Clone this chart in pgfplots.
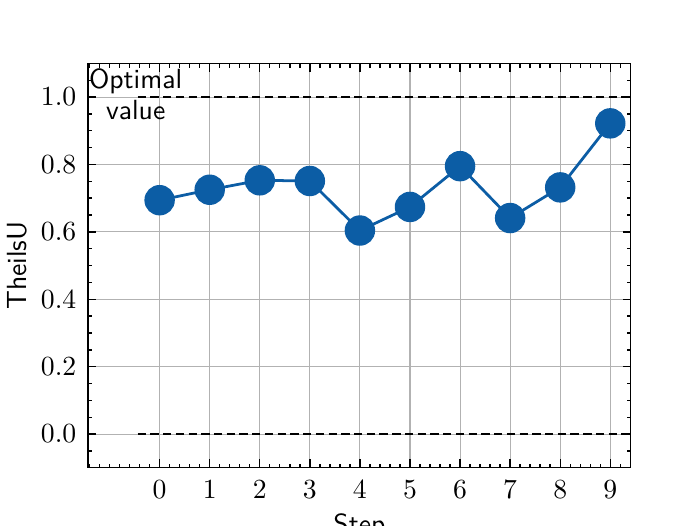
\documentclass[border=0pt]{standalone}
\usepackage{pgfplots}
\pgfplotsset{compat=1.18}
\definecolor{sciblue}{HTML}{0C5DA5}
\begin{document}
\begin{tikzpicture}
\begin{axis}[
  at={(0,0)}, anchor=south west,
  scale only axis,
  width=196.1pt, height=146.1pt,
  xmin=-1.43, xmax=9.41,
  ymin=-0.1, ymax=1.1,
  xtick={0,1,2,3,4,5,6,7,8,9},
  ytick={0,0.2,0.4,0.6,0.8,1.0},
  yticklabels={$0.0$,$0.2$,$0.4$,$0.6$,$0.8$,$1.0$},
  minor xtick={-1.4,-1.2,-1,-0.8,-0.6,-0.4,-0.2,0.2,0.4,0.6,0.8,1.2,1.4,1.6,1.8,2.2,2.4,2.6,2.8,3.2,3.4,3.6,3.8,4.2,4.4,4.6,4.8,5.2,5.4,5.6,5.8,6.2,6.4,6.6,6.8,7.2,7.4,7.6,7.8,8.2,8.4,8.6,8.8,9.2,9.4},
  minor ytick={-0.1,-0.05,0.05,0.1,0.15,0.25,0.3,0.35,0.45,0.5,0.55,0.65,0.7,0.75,0.85,0.9,0.95,1.05,1.1},
  tick align=inside,
  tick pos=both,
  major tick length=3pt,
  minor tick length=1.5pt,
  every tick/.style={black, line width=0.5pt},
  axis line style={black, line width=0.5pt},
  grid=major,
  major grid style={color=black!30, line width=0.4pt},
  tick label style={font=\fontsize{10}{12}\selectfont},
  xticklabel style={yshift=-1.1pt},
  yticklabel style={xshift=-0.7pt},
  xlabel={\sffamily Step},
  ylabel={\sffamily TheilsU},
  label style={font=\fontsize{10}{12}\selectfont},
  xlabel style={at={(axis description cs:0.5,-0.1444)}, anchor=center},
  ylabel style={at={(axis description cs:-0.131,0.5)}, anchor=center},
  clip=true,
]
\addplot[black, dashed, dash pattern=on 3pt off 1.6pt, line width=1pt] coordinates {(-0.44,1) (9.6,1)};
\addplot[black, dashed, dash pattern=on 3pt off 1.6pt, line width=1pt] coordinates {(-0.44,0) (9.6,0)};
\addplot[sciblue, line width=1pt, mark=*, mark size=5pt, mark options={fill=sciblue, draw=sciblue}] coordinates {
(0,0.694) (1,0.725) (2,0.753) (3,0.751) (4,0.604) (5,0.674) (6,0.795) (7,0.641) (8,0.732) (9,0.922)};
\node[anchor=west, align=center, font=\sffamily\fontsize{10}{11.1}\selectfont, inner sep=0pt, yshift=1.1pt] at (axis cs:-1.42,1.0) {Optimal\\value};
\end{axis}
\pgfresetboundingbox
\path[use as bounding box] (-31.8pt,-20.7pt) rectangle (221.1pt,169.0pt);
\end{tikzpicture}
\end{document}
